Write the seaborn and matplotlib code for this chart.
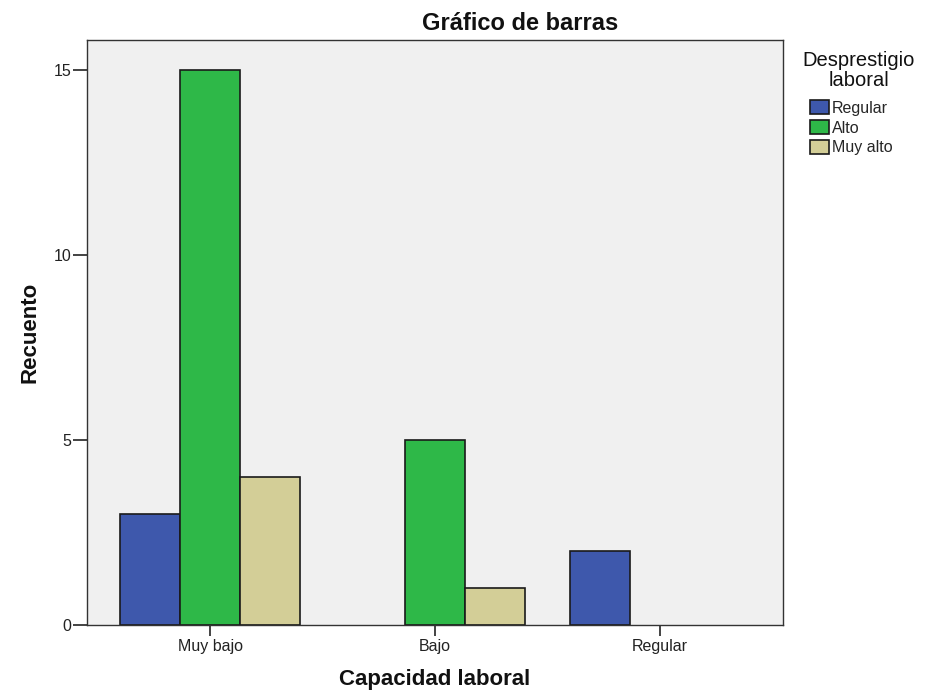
import pandas as pd
import seaborn as sns
import matplotlib.pyplot as plt

# data
capacidad = ["Muy bajo", "Muy bajo", "Muy bajo", "Bajo", "Bajo", "Regular"]
desprestigio = ["Regular", "Alto", "Muy alto", "Alto", "Muy alto", "Regular"]
recuento = [3, 15, 4, 5, 1, 2]

cap_order = ["Muy bajo", "Bajo", "Regular"]
hue_order = ["Regular", "Alto", "Muy alto"]
colors = ["#3e58ac", "#2eb848", "#d3ce97"]

df = pd.DataFrame({"Capacidad": capacidad, "Desprestigio": desprestigio, "Recuento": recuento})

sns.set_style("white")
plt.rcParams['font.family'] = ['Liberation Sans', 'DejaVu Sans']

fig = plt.figure(figsize=(9.25, 6.97), dpi=100)
ax = fig.add_axes([87/925, 1-625/697, (783-87)/925, (625-40)/697])
ax.set_facecolor("#f0f0f0")

sns.barplot(data=df, x="Capacidad", y="Recuento", hue="Desprestigio",
            order=cap_order, hue_order=hue_order, palette=colors, saturation=1,
            width=0.8, edgecolor="#1a1a1a", linewidth=1.2, ax=ax)

ax.set_xlim(-0.547, 2.547)
ax.set_ylim(0, 15.8)
ax.set_yticks([0, 5, 10, 15])
ax.tick_params(axis="y", direction="out", length=10, width=1.2, colors="#222222",
               labelsize=11.5, pad=1, left=True)
ax.tick_params(axis="x", direction="out", length=8, width=1.2, colors="#222222",
               labelsize=11.5, pad=2, bottom=True)
for s in ax.spines.values():
    s.set_color("#333333")
    s.set_linewidth(1.0)

ax.set_xlabel("Capacidad laboral", fontsize=16, fontweight="bold", labelpad=11, color="#111111")
ax.set_ylabel("Recuento", fontsize=16, fontweight="bold", labelpad=10, color="#111111")
fig.text(520/925, 1-30/697, "Gráfico de barras", ha="center", va="baseline",
         fontsize=17, fontweight="bold", color="#111111")

# legend title placed separately to match the spacing
fig.text(859/925, 1-51/697, "Desprestigio\nlaboral", ha="center", va="top",
         fontsize=14.5, linespacing=1.05, color="#111111")
leg = ax.legend(loc="upper left", bbox_to_anchor=(810/925, 1-100/697),
                bbox_transform=fig.transFigure, frameon=False, fontsize=11.5,
                handlelength=1.2, handleheight=1.0, handletextpad=0.15,
                labelspacing=0.27, borderaxespad=0, borderpad=0)
for h in leg.legend_handles:
    h.set_edgecolor("#1a1a1a")

fig.savefig("out.png", dpi=100)
